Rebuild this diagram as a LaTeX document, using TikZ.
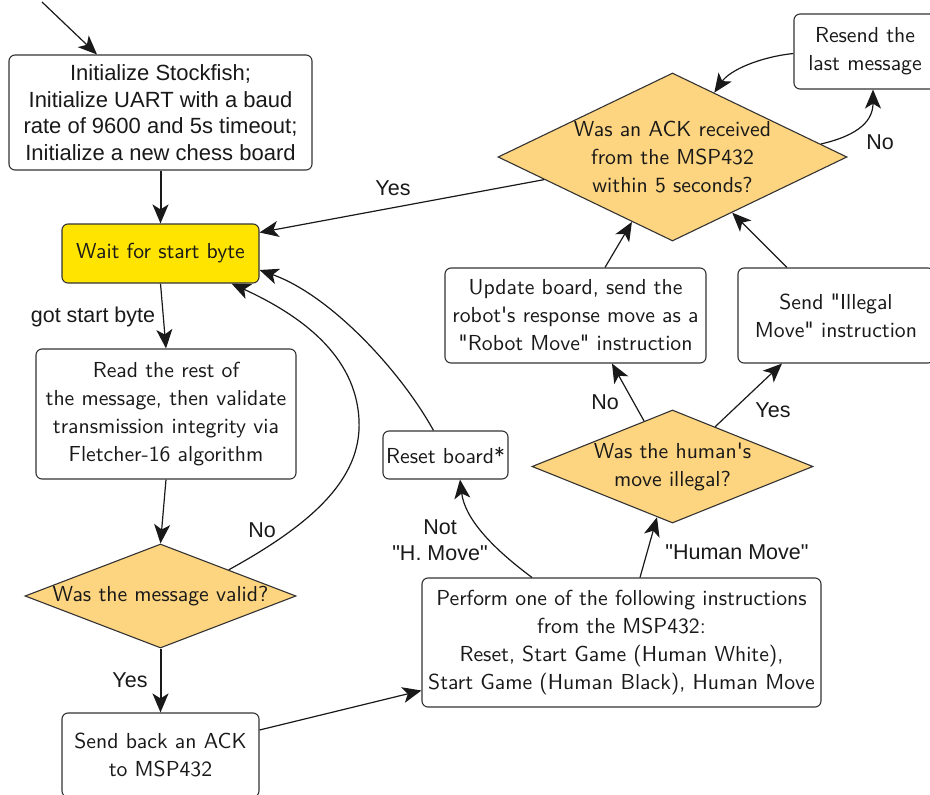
\documentclass[tikz,border=0pt]{standalone}
\usepackage{fontspec}
\newfontfamily\lms{lmsans10-regular}[Extension=.otf]
\newfontfamily\arialf{Liberation Sans}
\usetikzlibrary{shapes.geometric,arrows.meta}
\definecolor{dia}{RGB}{253,212,127}
\definecolor{yel}{RGB}{255,228,0}
\begin{document}
\begin{tikzpicture}[x=1pt,y=1pt,
  box/.style={draw=black!80, line width=1.1pt, rounded corners=6pt, align=center,
    inner sep=0pt, font=\lms\fontsize{21.7}{28}\selectfont, text=black!90},
  abox/.style={box, font=\arialf\fontsize{22}{26.5}\selectfont},
  dec/.style={diamond, draw=black!80, line width=1.1pt, fill=dia, align=center,
    inner sep=-6pt, font=\lms\fontsize{21.7}{28}\selectfont, text=black!90},
  arr/.style={-{Stealth[length=19pt,width=16pt,inset=5pt]}, line width=1.2pt, black!90},
  thick arr/.style={arr, line width=2pt},
  lbl/.style={font=\arialf\fontsize{21.5}{25.5}\selectfont, align=center, text=black!90, inner sep=0pt}]

\useasboundingbox (0,0) rectangle (930,-795);

% nodes
\node[abox, minimum width=303, minimum height=115] (init) at (160.5,-112.5)
  {Initialize Stockfish;\\Initialize UART with a baud\\rate of 9600 and 5s timeout;\\Initialize a new chess board};
\node[box, fill=yel, minimum width=197, minimum height=59] (wait) at (160.5,-253.5) {Wait for start byte};
\node[box, minimum width=260, minimum height=130] (read) at (166,-414)
  {Read the rest of\\the message, then validate\\transmission integrity via\\Fletcher-16 algorithm};
\node[dec, aspect=2.6, minimum width=271, minimum height=104] (valid) at (160.5,-596) {Was the message valid?};
\node[box, minimum width=197, minimum height=84] (ackto) at (160.5,-755) {Send back an ACK\\to MSP432};
\node[box, minimum width=399, minimum height=129] (perform) at (621.5,-642.5)
  {Perform one of the following instructions\\from the MSP432:\\Reset, Start Game (Human White),\\Start Game (Human Black), Human Move};
\node[box, minimum width=125, minimum height=48] (reset) at (445.5,-455) {Reset board*};
\node[dec, aspect=2.49, minimum width=281, minimum height=113] (human) at (672.5,-466.5) {Was the human's\\move illegal?};
\node[box, minimum width=261, minimum height=95] (update) at (575.5,-315.5)
  {Update board, send the\\robot's response move as a\\"Robot Move" instruction};
\node[box, minimum width=196, minimum height=95] (illegal) at (836,-315.5) {Send "Illegal\\Move" instruction};
\node[dec, aspect=2.08, minimum width=349, minimum height=168] (ack) at (672.5,-157)
  {Was an ACK received\\from the MSP432\\within 5 seconds?};
\node[box, minimum width=142, minimum height=75] (resend) at (865,-51.5) {Resend the\\last message};

% labels
\node[lbl] (lgot) at (93,-317) {got start byte};
\node[lbl] (lyes1) at (130,-680) {Yes};
\node[lbl] (lno1) at (262,-530) {No};
\node[lbl] (lyes2) at (393,-188) {Yes};
\node[lbl] (lno2) at (880,-142) {No};
\node[lbl] (lno3) at (605,-402) {No};
\node[lbl] (lyes3) at (773,-410) {Yes};
\node[lbl] (lnot) at (440,-540) {Not\\"H. Move"};
\node[lbl] (lhm) at (737,-552) {"Human Move"};

% connectors
\coordinate (entry) at (42,-2);
\draw[arr] (entry) -- ([xshift=-63.5]init.north);
\draw[thick arr] (init.south) -- (wait.north);
\draw[arr] (wait.south) -- (read.north);
\draw[arr] (read.south) -- (valid.north);
\draw[thick arr] (valid.south) -- (ackto.north);
\draw[arr] ([yshift=25]ackto.east) -- ([yshift=-48]perform.west);
\draw[arr] (valid.21.9) .. controls (310,-525) and (362,-480) .. (359,-420)
  .. controls (356,-355) and (300,-315) .. ([xshift=71]wait.south);
\draw[arr] ([xshift=-12]reset.north) .. controls (400,-370) and (330,-295) .. ([yshift=-16.5]wait.east);
\draw[arr] (ack.190.7) -- ([yshift=21]wait.east);
\draw[arr] (ack.5.5) .. controls (860,-135) and (873,-120) .. ([xshift=8]resend.south);
\draw[arr] ([yshift=-2]resend.west) .. controls (760,-57) and (730,-70) .. (ack.57.6);
\draw[arr] ([xshift=29.5]update.north) -- (ack.238.5);
\draw[arr] ([xshift=-49]illegal.north) -- (ack.317.2);
\draw[arr] (human.122.4) -- ([xshift=36.5]update.south);
\draw[arr] (human.43) -- ([xshift=-54]illegal.south);
\draw[arr] ([xshift=-89.5]perform.north) .. controls (495,-550) and (465,-520) .. ([xshift=14.5]reset.south);
\draw[arr] ([xshift=18.5]perform.north) -- (human.253.2);
\end{tikzpicture}
\end{document}
